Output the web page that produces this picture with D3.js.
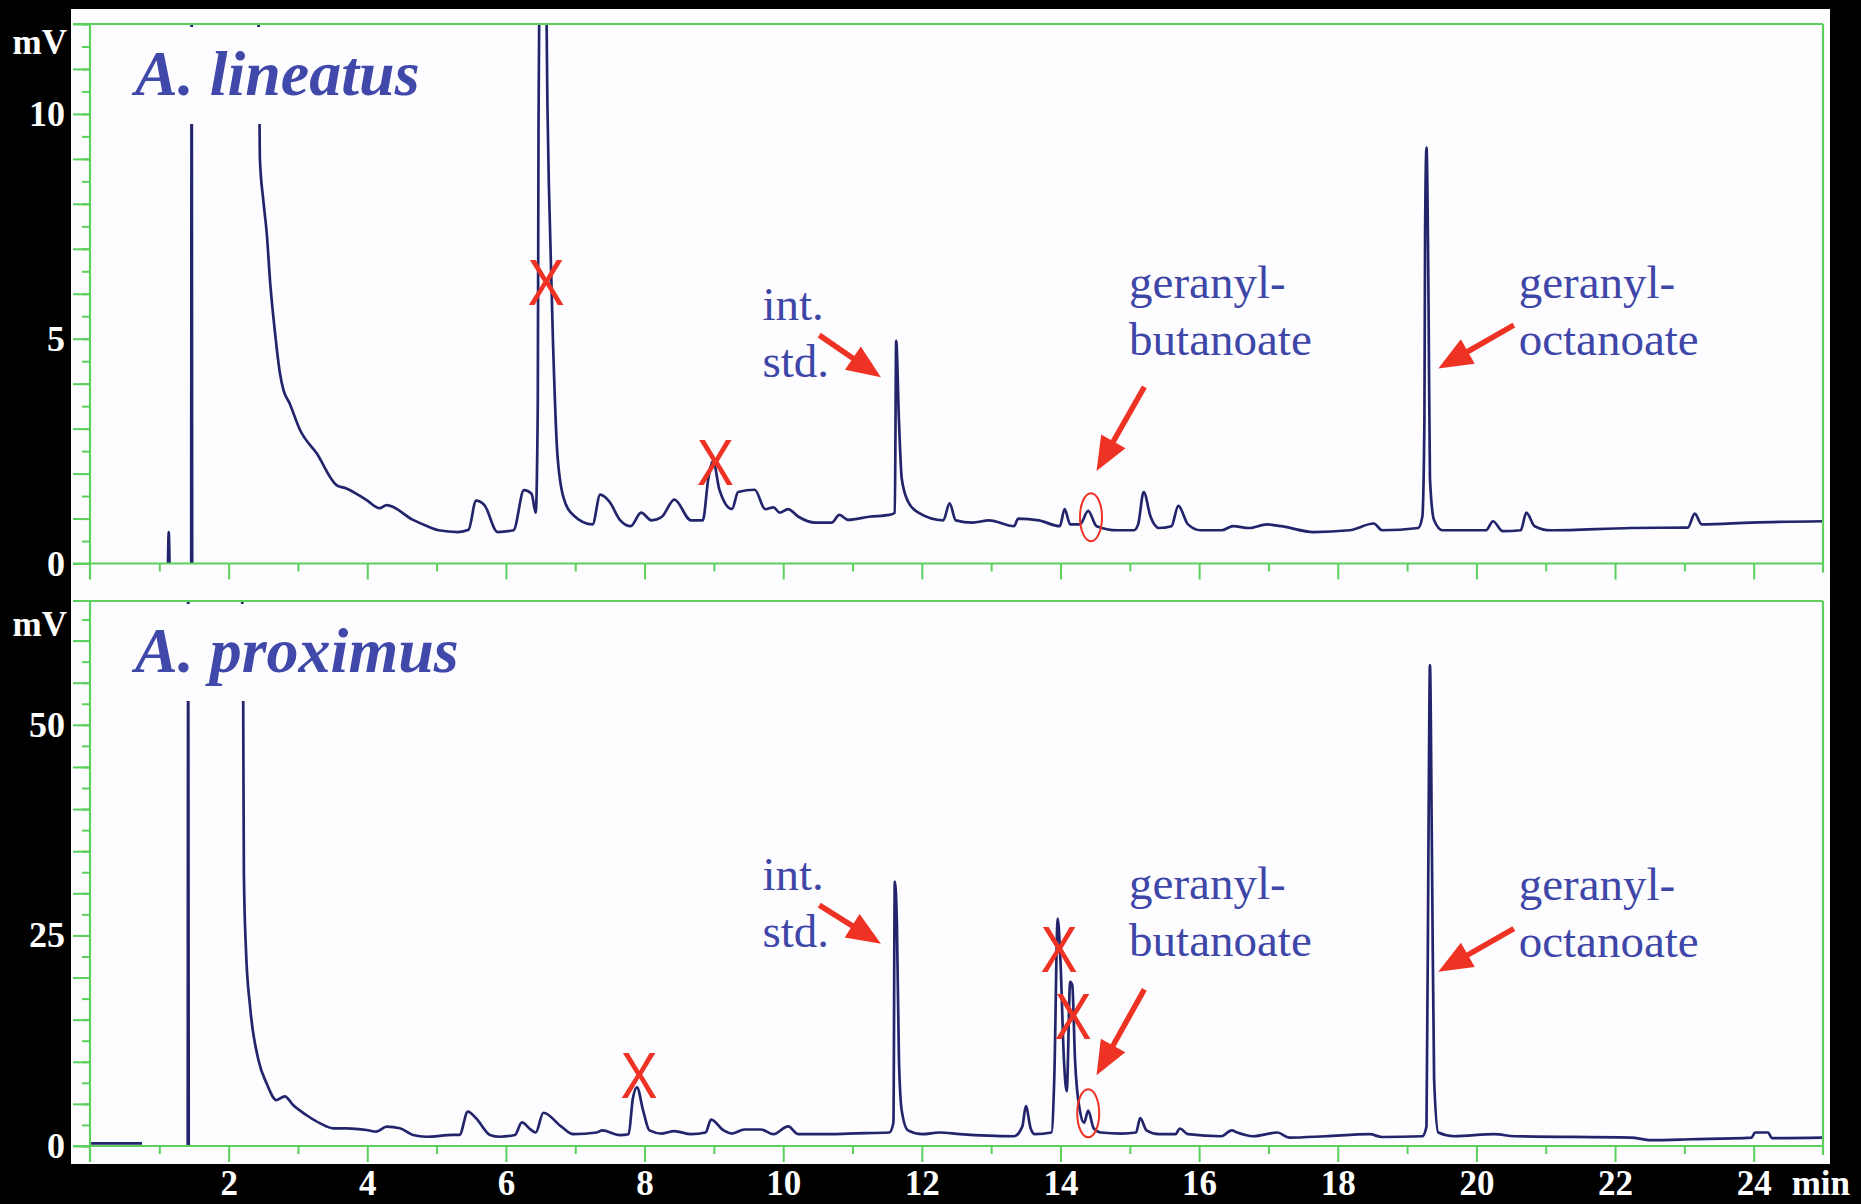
<!DOCTYPE html>
<html>
<head>
<meta charset="utf-8">
<script src="https://cdn.jsdelivr.net/npm/d3@7"></script>
<style>
  body { margin: 0; background: #000; }
  svg { display: block; }
</style>
</head>
<body>
<div id="chart"></div>
<script>
// retention time (min) and detector signal (mV)
// null = gap in the trace (flat on the axis, or solvent front cut off in the original)
var linTime = [1.125, 1.136, 1.147, 1.2, 1.46, 1.467, 1.474, 2.0, 2.42, 2.45, 2.50, 2.55, 2.60, 2.67, 2.74, 2.79, 2.88, 3.03, 3.27, 3.56, 3.70, 3.99, 4.18, 4.28, 4.66, 4.85, 5.03, 5.31, 5.46, 5.57, 5.69, 5.88, 6.11, 6.26, 6.37, 6.43, 6.46, 6.47, 6.50, 6.57, 6.60, 6.62, 6.68, 6.74, 6.83, 6.97, 7.25, 7.36, 7.49, 7.65, 7.80, 7.95, 8.10, 8.25, 8.43, 8.67, 8.84, 8.92, 8.99, 9.08, 9.26, 9.35, 9.59, 9.74, 9.86, 9.95, 10.07, 10.22, 10.46, 10.70, 10.81, 10.94, 11.24, 11.53, 11.61, 11.63, 11.67, 11.71, 11.80, 11.95, 12.31, 12.40, 12.49, 12.73, 12.97, 13.33, 13.39, 13.69, 13.99, 14.06, 14.14, 14.28, 14.40, 14.52, 14.82, 15.06, 15.12, 15.20, 15.30, 15.42, 15.60, 15.70, 15.84, 16.02, 16.32, 16.49, 16.72, 16.98, 17.19, 17.65, 18.17, 18.52, 18.64, 19.16, 19.22, 19.25, 19.26, 19.28, 19.31, 19.33, 19.39, 19.51, 19.91, 20.14, 20.24, 20.38, 20.64, 20.72, 20.84, 21.07, 22.23, 23.05, 23.15, 23.25, 23.97, 25.0];
var linMv = [0, 0.70, 0, null, 0, 14, 0, null, 14, 9.04, 8.08, 7.34, 6.23, 5.12, 4.23, 3.86, 3.56, 2.97, 2.45, 1.74, 1.67, 1.41, 1.23, 1.30, 0.97, 0.84, 0.74, 0.70, 0.75, 1.40, 1.30, 0.70, 0.74, 1.63, 1.55, 1.13, 3.59, 9.6, 14, 14, 10.1, 8.4, 4.88, 2.49, 1.47, 1.08, 0.87, 1.53, 1.38, 0.96, 0.83, 1.13, 0.96, 1.04, 1.42, 0.96, 0.96, 1.89, 2.28, 1.64, 1.21, 1.59, 1.64, 1.21, 1.25, 1.13, 1.21, 1.04, 0.91, 0.91, 1.08, 0.97, 1.04, 1.08, 1.13, 4.95, 3.17, 1.89, 1.38, 1.13, 0.96, 1.34, 0.96, 0.91, 0.96, 0.83, 1.00, 0.96, 0.83, 1.21, 0.87, 0.87, 1.17, 0.83, 0.74, 0.74, 0.87, 1.59, 1.04, 0.79, 0.83, 1.28, 0.87, 0.74, 0.74, 0.83, 0.79, 0.87, 0.83, 0.70, 0.74, 0.89, 0.74, 0.79, 1.04, 3.17, 7.42, 9.25, 5.72, 1.89, 0.96, 0.74, 0.74, 0.74, 0.94, 0.72, 0.74, 1.13, 0.83, 0.74, 0.79, 0.80, 1.11, 0.87, 0.91, 0.94];

var proTime = [0, 0.75, 0.8, 1.41, 1.417, 1.424, 1.9, 2.19, 2.21, 2.22, 2.25, 2.31, 2.43, 2.55, 2.69, 2.81, 2.93, 3.12, 3.32, 3.51, 3.70, 3.99, 4.13, 4.28, 4.47, 4.66, 4.85, 5.24, 5.33, 5.45, 5.57, 5.77, 5.91, 6.13, 6.23, 6.35, 6.43, 6.54, 6.80, 6.97, 7.31, 7.39, 7.64, 7.77, 7.83, 7.89, 7.98, 8.07, 8.25, 8.43, 8.67, 8.88, 8.96, 9.14, 9.26, 9.44, 9.68, 9.86, 10.07, 10.22, 10.70, 10.94, 11.53, 11.59, 11.61, 11.64, 11.67, 11.71, 11.80, 12.01, 12.25, 12.55, 13.33, 13.45, 13.50, 13.57, 13.63, 13.87, 13.91, 13.96, 14.00, 14.05, 14.09, 14.14, 14.17, 14.21, 14.28, 14.34, 14.40, 14.48, 14.58, 14.88, 15.09, 15.15, 15.24, 15.42, 15.66, 15.72, 15.84, 16.32, 16.47, 16.55, 16.78, 17.13, 17.30, 17.82, 18.46, 18.64, 19.22, 19.28, 19.31, 19.33, 19.36, 19.39, 19.45, 19.68, 20.26, 20.55, 22.23, 22.52, 23.10, 23.97, 24.02, 24.21, 24.26, 25.0];
var proMv = [0.3, 0.3, null, 0, 70, 0, null, 70, 52.8, 32.3, 23.3, 16.5, 10.2, 7.4, 5.45, 5.9, 4.86, 3.68, 2.69, 2.10, 2.10, 1.90, 1.70, 2.29, 2.10, 1.31, 1.10, 1.31, 1.31, 4.07, 3.29, 1.31, 1.10, 1.31, 2.8, 2.0, 1.6, 3.95, 2.3, 1.4, 1.6, 1.86, 1.3, 1.4, 5.58, 6.97, 4.19, 1.86, 1.48, 1.77, 1.4, 1.6, 3.13, 1.86, 1.48, 1.96, 1.96, 1.4, 2.33, 1.4, 1.4, 1.48, 1.6, 2.76, 31.4, 26.5, 10.2, 4.2, 1.86, 1.4, 1.6, 1.4, 1.16, 2.33, 4.74, 2.08, 1.4, 1.6, 7.9, 27.0, 21.9, 10.2, 6.5, 19.5, 19.1, 10.2, 4.2, 2.76, 4.2, 2.08, 1.6, 1.48, 1.6, 3.3, 1.86, 1.4, 1.4, 2.08, 1.4, 1.16, 1.86, 1.6, 1.16, 1.6, 1.0, 1.16, 1.4, 1.07, 1.16, 2.33, 38.1, 57.1, 33.4, 7.9, 1.6, 1.16, 1.4, 1.16, 1.0, 0.7, 0.8, 1.0, 1.6, 1.6, 0.94, 1.0];

// tick labels
var xLabels = [2, 4, 6, 8, 10, 12, 14, 16, 18, 20, 22, 24];
var linYLabels = [0, 5, 10];
var proYLabels = [0, 25, 50];

// annotations, in (min, mV) of each panel
var linNotes = [
    {lines: ['int.', 'std.'], t: 9.70, v: 5.41},
    {lines: ['geranyl-', 'butanoate'], t: 14.99, v: 5.90},
    {lines: ['geranyl-', 'octanoate'], t: 20.61, v: 5.90}
];
var proNotes = [
    {lines: ['int.', 'std.'], t: 9.70, v: 30.45},
    {lines: ['geranyl-', 'butanoate'], t: 14.99, v: 29.3},
    {lines: ['geranyl-', 'octanoate'], t: 20.61, v: 29.2}
];
// arrows: tail t, tail v, tip t, tip v
var linArrows = [[10.52, 5.08, 11.41, 4.14], [15.21, 3.93, 14.52, 2.06], [20.54, 5.30, 19.45, 4.34]];
var proArrows = [[10.52, 28.6, 11.41, 24.0], [15.21, 18.6, 14.52, 8.4], [20.54, 25.8, 19.45, 20.7]];
// red crosses on discarded peaks
var linCrosses = [[6.58, 6.23], [9.02, 2.23]];
var proCrosses = [[7.92, 8.25], [13.98, 23.2], [14.18, 15.3]];
// ring around the geranyl-butanoate peak
var linRing = [14.44, 1.03];
var proRing = [14.40, 3.88];

var W = 1861, H = 1204;
var green = '#5ccf5c';
var red = '#ee3224';
var blue = '#3e46a8';
var traceColor = '#23256c';
var serif = '"Liberation Serif", "Times New Roman", serif';

var svg = d3.select('#chart')
    .append('svg')
    .attr('width', W)
    .attr('height', H);
svg.append('rect').attr('width', W).attr('height', H).attr('fill', '#000');
svg.append('rect')
    .attr('x', 71).attr('y', 9)
    .attr('width', 1759).attr('height', 1155)
    .attr('fill', '#fdfdff');

var x = d3.scaleLinear().domain([0, 25]).range([90, 1823]);

var panels = [
    {id: 'lin', title: 'A. lineatus', time: linTime, mv: linMv,
     y: d3.scaleLinear().domain([0, 12]).range([563.5, 24]),
     minor: 0.5, major: 1, labels: linYLabels, unitAt: 11.34,
     notes: linNotes, arrows: linArrows, crosses: linCrosses, ring: linRing, xText: false},
    {id: 'pro', title: 'A. proximus', time: proTime, mv: proMv,
     y: d3.scaleLinear().domain([0, 64.7]).range([1146, 601]),
     minor: 2.5, major: 5, labels: proYLabels, unitAt: 60.6,
     notes: proNotes, arrows: proArrows, crosses: proCrosses, ring: proRing, xText: true}
];

panels.forEach(function (p) {
    var y = p.y;
    var base = y.range()[0], top = y.range()[1];
    var left = x.range()[0], right = x.range()[1];
    var g = svg.append('g').attr('id', p.id);

    // trace, clipped to the frame
    g.append('clipPath').attr('id', 'clip-' + p.id)
        .append('rect')
        .attr('x', left).attr('y', top)
        .attr('width', right - left).attr('height', base - top + 4);

    var pts = d3.zip(p.time, p.mv);
    var line = d3.line()
        .defined(function (d) { return d[1] !== null; })
        .x(function (d) { return x(d[0]); })
        .y(function (d) { return y(d[1]); })
        .curve(d3.curveMonotoneX);

    g.append('path')
        .attr('d', line(pts))
        .attr('clip-path', 'url(#clip-' + p.id + ')')
        .attr('fill', 'none')
        .attr('stroke', traceColor)
        .attr('stroke-width', 2.7)
        .attr('stroke-linejoin', 'round');

    // species name on a white patch that hides the trace
    var title = g.append('text')
        .attr('x', 135).attr('y', top + 71)
        .attr('font-family', serif)
        .attr('font-size', 64)
        .attr('font-weight', 'bold')
        .attr('font-style', 'italic')
        .attr('fill', '#4048aa')
        .text(p.title);
    var bb = title.node().getBBox();
    g.insert('rect', function () { return title.node(); })
        .attr('x', bb.x - 17).attr('y', top + 3)
        .attr('width', bb.width + 42).attr('height', 97)
        .attr('fill', '#fdfdff');

    // frame
    var frame = g.append('g')
        .attr('stroke', green).attr('stroke-width', 2.2).attr('fill', 'none');
    frame.append('line').attr('x1', 73).attr('x2', right).attr('y1', top).attr('y2', top);
    frame.append('line').attr('x1', 73).attr('x2', right).attr('y1', base).attr('y2', base);
    frame.append('line').attr('x1', left).attr('x2', left).attr('y1', top).attr('y2', base + 16);
    frame.append('line').attr('x1', right).attr('x2', right).attr('y1', top).attr('y2', base + 9);

    // y ticks
    function yTicks(step, size) {
        var ag = g.append('g').attr('transform', 'translate(' + left + ',0)');
        d3.axisLeft(y)
            .tickValues(d3.range(0, y.domain()[1] + 1e-6, step))
            .tickSize(size)
            .tickFormat('')(ag);
        ag.select('.domain').remove();
        ag.selectAll('line').attr('stroke', green).attr('stroke-width', 2);
    }
    yTicks(p.minor, 8);
    yTicks(p.major, 17);

    // x ticks
    function xTicks(vals, size) {
        var ag = g.append('g').attr('transform', 'translate(0,' + base + ')');
        d3.axisBottom(x).tickValues(vals).tickSize(size).tickFormat('')(ag);
        ag.select('.domain').remove();
        ag.selectAll('line').attr('stroke', green).attr('stroke-width', 2);
    }
    xTicks(d3.range(1, 25, 2), 8);
    xTicks(d3.range(2, 25, 2), 16);

    // y labels
    var yl = g.append('g').attr('transform', 'translate(' + left + ',0)');
    d3.axisLeft(y).tickValues(p.labels).tickSize(0).tickPadding(25)(yl);
    yl.select('.domain').remove();
    yl.attr('font-family', serif).attr('font-size', 36);
    yl.selectAll('text').attr('fill', '#fff').attr('font-weight', 'bold');

    g.append('text')
        .attr('x', 67).attr('y', y(p.unitAt))
        .attr('text-anchor', 'end')
        .attr('font-family', serif).attr('font-size', 35).attr('font-weight', 'bold')
        .attr('fill', '#fff')
        .text('mV');

    if (p.xText) {
        var xl = g.append('g').attr('transform', 'translate(0,' + base + ')');
        d3.axisBottom(x).tickValues(xLabels).tickSize(0).tickPadding(24)(xl);
        xl.select('.domain').remove();
        xl.attr('font-family', serif).attr('font-size', 35);
        xl.selectAll('text').attr('fill', '#fff').attr('font-weight', 'bold');
        g.append('text')
            .attr('x', x(24) + 38).attr('y', base + 49)
            .attr('font-family', serif).attr('font-size', 35).attr('font-weight', 'bold')
            .attr('fill', '#fff')
            .text('min');
    }

    // peak names
    var notes = g.append('g')
        .attr('font-family', serif).attr('font-size', 47).attr('fill', blue);
    p.notes.forEach(function (n) {
        var t = notes.append('text').attr('x', x(n.t)).attr('y', y(n.v));
        n.lines.forEach(function (s, i) {
            t.append('tspan').attr('x', x(n.t)).attr('dy', i === 0 ? 0 : 57).text(s);
        });
    });

    // arrows
    p.arrows.forEach(function (a) {
        var x1 = x(a[0]), y1 = y(a[1]), x2 = x(a[2]), y2 = y(a[3]);
        var dx = x2 - x1, dy = y2 - y1, len = Math.sqrt(dx * dx + dy * dy);
        var ux = dx / len, uy = dy / len;
        var hl = 34, hw = 14;
        var bx = x2 - ux * hl, by = y2 - uy * hl;
        g.append('line')
            .attr('x1', x1).attr('y1', y1)
            .attr('x2', bx + ux * 4).attr('y2', by + uy * 4)
            .attr('stroke', red).attr('stroke-width', 5.5);
        g.append('path')
            .attr('d', 'M' + x2 + ',' + y2 +
                'L' + (bx - uy * hw) + ',' + (by + ux * hw) +
                'L' + (bx + uy * hw) + ',' + (by - ux * hw) + 'Z')
            .attr('fill', red);
    });

    // ring
    g.append('ellipse')
        .attr('cx', x(p.ring[0])).attr('cy', y(p.ring[1]))
        .attr('rx', 11).attr('ry', 24)
        .attr('fill', 'none').attr('stroke', red).attr('stroke-width', 2);

    // crosses
    g.selectAll('.cross')
        .data(p.crosses)
        .enter()
        .append('text')
        .attr('class', 'cross')
        .attr('transform', function (d) {
            return 'translate(' + x(d[0]) + ',' + y(d[1]) + ') scale(0.87,1)';
        })
        .attr('text-anchor', 'middle')
        .attr('dominant-baseline', 'central')
        .attr('font-family', '"Liberation Sans", Arial, sans-serif')
        .attr('font-size', 64)
        .attr('fill', red)
        .text('X');
});
</script>
</body>
</html>
